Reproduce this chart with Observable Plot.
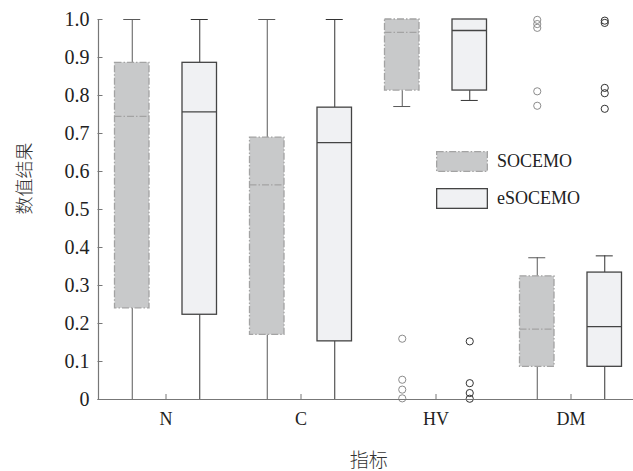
<!DOCTYPE html>
<html>
<head>
<meta charset="utf-8">
<script src="https://cdn.jsdelivr.net/npm/d3@7"></script>
<script src="https://cdn.jsdelivr.net/npm/@observablehq/plot@0.6"></script>
<style>
  html, body { margin: 0; padding: 0; background: #fff; }
  #wrap { position: relative; width: 633px; height: 471px; overflow: hidden; }
  #legend { position: absolute; left: 436px; top: 151px; font-family: "Liberation Serif", "Times New Roman", serif; font-size: 18px; color: #222; }
  .item { display: flex; align-items: center; height: 21px; margin-bottom: 16px; }
  .item svg { display: block; margin-right: 9px; }
</style>
</head>
<body>
<div id="wrap"></div>
<script>
// ---- data ----
const categories = ["N", "C", "HV", "DM"];
const seriesNames = ["SOCEMO", "eSOCEMO"];
const yTicks = [0, 0.1, 0.2, 0.3, 0.4, 0.5, 0.6, 0.7, 0.8, 0.9, 1.0];

// SOCEMO box statistics per category
const socemoLow  = [0, 0, 0.771, 0];
const socemoQ1   = [0.240, 0.170, 0.813, 0.086];
const socemoMed  = [0.745, 0.565, 0.966, 0.185];
const socemoQ3   = [0.886, 0.689, 1.0, 0.324];
const socemoHigh = [1.0, 1.0, 1.0, 0.373];
// eSOCEMO box statistics per category
const esocemoLow  = [0, 0, 0.787, 0];
const esocemoQ1   = [0.223, 0.153, 0.813, 0.086];
const esocemoMed  = [0.757, 0.676, 0.971, 0.192];
const esocemoQ3   = [0.886, 0.768, 1.0, 0.334];
const esocemoHigh = [1.0, 1.0, 1.0, 0.378];
// outliers
const socemoOutliersHV  = [0.160, 0.052, 0.026, 0.003];
const socemoOutliersDM  = [0.999, 0.988, 0.978, 0.811, 0.773];
const esocemoOutliersHV = [0.153, 0.043, 0.017, 0.002];
const esocemoOutliersDM = [0.997, 0.991, 0.820, 0.806, 0.765];

// ---- build tables ----
function stats(low, q1, med, q3, high) {
  return categories.map((c, i) => ({cat: c, low: low[i], q1: q1[i], med: med[i], q3: q3[i], high: high[i]}));
}
const sData = stats(socemoLow, socemoQ1, socemoMed, socemoQ3, socemoHigh);
const eData = stats(esocemoLow, esocemoQ1, esocemoMed, esocemoQ3, esocemoHigh);
const sOut = [...socemoOutliersHV.map(v => ({cat: "HV", v})), ...socemoOutliersDM.map(v => ({cat: "DM", v}))];
const eOut = [...esocemoOutliersHV.map(v => ({cat: "HV", v})), ...esocemoOutliersDM.map(v => ({cat: "DM", v}))];

// styles
const S = {fill: "#c8c9ca", stroke: "#a3a3a3", dash: "7,2,1.5,2", whisker: "#5a5a5a", out: "#8c8c8c"};
const E = {fill: "#f0f1f3", stroke: "#444", whisker: "#333", out: "#333"};
const off = 33.75; // half-distance between the two boxes of a group (px)
const boxS = {insetLeft: 16.5, insetRight: 84};
const boxE = {insetLeft: 84, insetRight: 16.5};
const capS = {insetLeft: 25.25, insetRight: 92.75};
const capE = {insetLeft: 92.75, insetRight: 25.25};
const serif = "'Liberation Serif', 'Times New Roman', serif";
const cjk = "'Noto Sans CJK SC', sans-serif";

const chart = Plot.plot({
  width: 633,
  height: 471,
  marginLeft: 97.5,
  marginRight: 0,
  marginTop: 19,
  marginBottom: 72,
  style: {fontFamily: serif, color: "#222", background: "#fff", overflow: "visible"},
  x: {domain: categories, range: [97.5, 637.5], padding: 0, axis: null},
  y: {domain: [0, 1], axis: null},
  marks: [
    // whiskers
    Plot.ruleX(sData, {x: "cat", y1: "low", y2: "q1", dx: -off, stroke: S.whisker}),
    Plot.ruleX(sData, {x: "cat", y1: "q3", y2: "high", dx: -off, stroke: S.whisker}),
    Plot.ruleX(eData, {x: "cat", y1: "low", y2: "q1", dx: off, stroke: E.whisker}),
    Plot.ruleX(eData, {x: "cat", y1: "q3", y2: "high", dx: off, stroke: E.whisker}),
    // caps
    Plot.tickY(sData, {x: "cat", y: "high", ...capS, stroke: S.whisker}),
    Plot.tickY(sData, {x: "cat", y: "low", ...capS, stroke: S.whisker}),
    Plot.tickY(eData, {x: "cat", y: "high", ...capE, stroke: E.whisker}),
    Plot.tickY(eData, {x: "cat", y: "low", ...capE, stroke: E.whisker}),
    // boxes
    Plot.barY(sData, {x: "cat", y1: "q1", y2: "q3", ...boxS, fill: S.fill, stroke: S.stroke, strokeWidth: 1.3, strokeDasharray: S.dash}),
    Plot.barY(eData, {x: "cat", y1: "q1", y2: "q3", ...boxE, fill: E.fill, stroke: E.stroke, strokeWidth: 1.3}),
    // medians
    Plot.tickY(sData, {x: "cat", y: "med", ...boxS, stroke: S.stroke, strokeWidth: 1.3, strokeDasharray: S.dash}),
    Plot.tickY(eData, {x: "cat", y: "med", ...boxE, stroke: E.stroke, strokeWidth: 1.3}),
    // outliers
    Plot.dot(sOut, {x: "cat", y: "v", dx: -off, r: 3.6, stroke: S.out, strokeWidth: 1, fill: "none"}),
    Plot.dot(eOut, {x: "cat", y: "v", dx: off, r: 3.6, stroke: E.out, strokeWidth: 1, fill: "none"}),
    // axes lines
    Plot.ruleY([0], {stroke: "#777", strokeWidth: 1.2}),
    Plot.ruleX([categories[0]], {x: d => d, dx: -67.5, y1: 0, y2: 1, stroke: "#777", strokeWidth: 1.2}),
    // axes
    Plot.axisY(yTicks, {anchor: "left", tickSize: -5, tickPadding: 13.5, stroke: "#777", fontSize: 20, fill: "#222",
      tickFormat: d => d === 0 ? "0" : d.toFixed(1), label: null}),
    Plot.axisX(categories, {anchor: "bottom", tickSize: -5, tickPadding: 18, stroke: "#777", fontSize: 18, fill: "#222", label: null}),
    // axis titles
    Plot.text(["数值结果"], {frameAnchor: "left", dx: -73, dy: 5, rotate: -90, fontSize: 18, fontWeight: 300, fontFamily: cjk, fill: "#333"}),
    Plot.text(["指标"], {frameAnchor: "bottom", dx: 3, dy: 67, fontSize: 19, fontWeight: 300, fontFamily: cjk, fill: "#333"})
  ]
});

const wrap = document.getElementById("wrap");
wrap.appendChild(chart);

// legend
const legend = document.createElement("div");
legend.id = "legend";
legend.innerHTML = `
  <div class="item"><svg width="52" height="21"><rect x="0.65" y="0.65" width="50.7" height="19.7" fill="${S.fill}" stroke="${S.stroke}" stroke-width="1.3" stroke-dasharray="${S.dash}"/></svg><span>${seriesNames[0]}</span></div>
  <div class="item"><svg width="52" height="21"><rect x="0.65" y="0.65" width="50.7" height="19.7" fill="${E.fill}" stroke="${E.stroke}" stroke-width="1.3"/></svg><span>${seriesNames[1]}</span></div>`;
wrap.appendChild(legend);
</script>
</body>
</html>
